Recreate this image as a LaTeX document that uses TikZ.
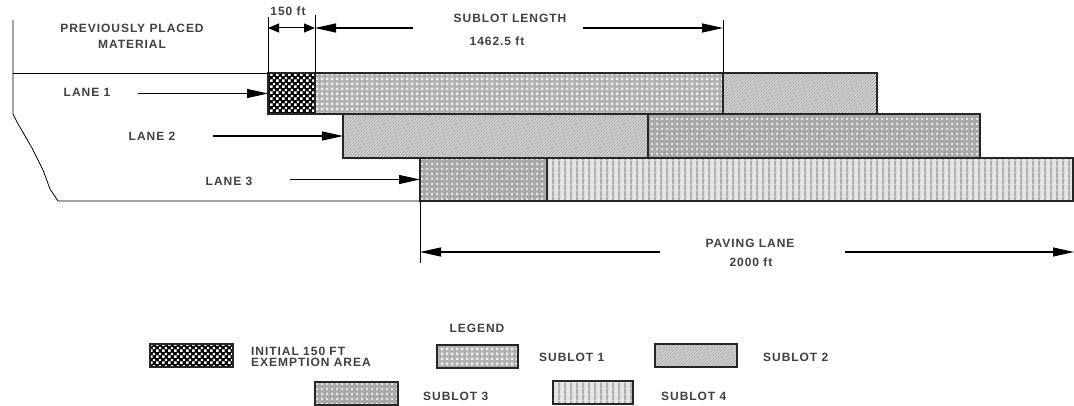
\documentclass[tikz,border=0pt]{standalone}
\usepackage{fontspec}
\setmainfont[LetterSpace=8]{Liberation Sans}
\usetikzlibrary{patterns,arrows.meta}

\pgfdeclarepatternformonly{exemptchk}{\pgfpointorigin}{\pgfqpoint{6pt}{6pt}}{\pgfqpoint{6pt}{6pt}}{%
  \pgfpathrectangle{\pgfqpoint{0.2pt}{0.2pt}}{\pgfqpoint{2.7pt}{2.7pt}}%
  \pgfpathrectangle{\pgfqpoint{3.2pt}{3.2pt}}{\pgfqpoint{2.7pt}{2.7pt}}%
  \pgfusepath{fill}}
\pgfdeclarepatternformonly{gridsq}{\pgfpointorigin}{\pgfqpoint{5pt}{5pt}}{\pgfqpoint{5pt}{5pt}}{%
  \pgfpathrectangle{\pgfqpoint{1pt}{1pt}}{\pgfqpoint{3pt}{3pt}}%
  \pgfusepath{fill}}
\pgfdeclarepatternformonly{meshsq}{\pgfpointorigin}{\pgfqpoint{5pt}{5pt}}{\pgfqpoint{5pt}{5pt}}{%
  \pgfpathrectangle{\pgfqpoint{1.3pt}{1.3pt}}{\pgfqpoint{2.4pt}{2.4pt}}%
  \pgfusepath{fill}}
\pgfdeclarepatternformonly{vstripes}{\pgfpointorigin}{\pgfqpoint{6pt}{6pt}}{\pgfqpoint{6pt}{6pt}}{%
  \pgfpathrectangle{\pgfqpoint{0pt}{0pt}}{\pgfqpoint{2.4pt}{6pt}}%
  \pgfusepath{fill}}

\begin{document}
\begin{tikzpicture}[
    x=1pt, y=-1pt,
    lot/.style={draw=black!85, line width=1.1pt, anchor=north west, inner sep=0pt, outer sep=0pt},
    exempt/.style={lot, preaction={fill=black}, pattern=exemptchk, pattern color=white},
    lotone/.style={lot, preaction={fill=gray!62}, pattern=gridsq, pattern color=gray!12},
    lottwo/.style={lot, preaction={fill=gray!28}, pattern=north east lines, pattern color=gray!85},
    lotthree/.style={lot, preaction={fill=gray!68}, pattern=meshsq, pattern color=gray!20},
    lotfour/.style={lot, preaction={fill=gray!20}, pattern=vstripes, pattern color=gray!62},
    key/.style={line width=1.5pt, minimum height=23},
    lbl/.style={font=\fontsize{12}{13}\selectfont\bfseries, text=black!75, inner sep=1pt},
    dim/.style={line width=0.8pt},
    arr/.style={-{Triangle[length=21pt,width=9pt]}, line width=1.1pt},
    short/.style={{Triangle[length=11pt,width=9pt]}-{Triangle[length=11pt,width=9pt]}, line width=1pt}
]
    \useasboundingbox (0,0) rectangle (1074,406);

    % lanes
    \node[exempt,   minimum width=47,  minimum height=41] (ex1) at (268,73)  {};
    \node[lotone,   minimum width=408, minimum height=41] (s1a) at (315,73)  {};
    \node[lottwo,   minimum width=154, minimum height=41] (s2a) at (723,73)  {};
    \node[lottwo,   minimum width=305, minimum height=44] (s2b) at (343,114) {};
    \node[lotthree, minimum width=332, minimum height=44] (s3b) at (648,114) {};
    \node[lotthree, minimum width=127, minimum height=43] (s3c) at (420,158) {};
    \node[lotfour,  minimum width=526, minimum height=43] (s4c) at (547,158) {};

    % edge of previously placed material
    \draw[dim] (ex1.north west) -- (13,73);
    \draw[dim] (13,20) -- (13,114) -- (17,122) -- (32,148) -- (43,170) -- (50,189) -- (58,201) -- (s3c.south west);
    \node[lbl, align=center] (prev) at (132,36) {PREVIOUSLY PLACED\\[3pt]MATERIAL};

    % lane labels
    \node[lbl] (lane1) at (87,92)   {LANE 1};
    \node[lbl] (lane2) at (152,136) {LANE 2};
    \node[lbl] (lane3) at (229,181) {LANE 3};
    \coordinate (a1) at (138,0);
    \coordinate (a2) at (213,0);
    \coordinate (a3) at (290,0);
    \draw[arr] (a1 |- ex1.west) -- (ex1.west);
    \draw[arr] (a2 |- s2b.west) -- (s2b.west);
    \draw[arr] (a3 |- s3c.west) -- (s3c.west);

    % dimensions on top
    \node[lbl] (ft150)    at (288,11) {150 ft};
    \node[lbl] (sublen)   at (510,18) {SUBLOT LENGTH};
    \node[lbl] (sublenft) at (497,41) {1462.5 ft};
    \coordinate (e0) at (268,17);
    \coordinate (e1) at (315,15);
    \coordinate (e2) at (723,20);
    \draw[dim] (e0) -- (ex1.north west);
    \draw[dim] (e1) -- (s1a.north west);
    \draw[dim] (e2) -- (s2a.north west);
    \coordinate (dy) at (0,28);
    \draw[short] (e0 |- dy) -- (e1 |- dy);
    \coordinate (dA) at (413,28);
    \coordinate (dB) at (583,28);
    \draw[arr] (dA) -- (e1 |- dA);
    \draw[arr] (dB) -- (e2 |- dB);

    % paving lane
    \coordinate (p0) at (420,263);
    \draw[dim] (s3c.south west) -- (p0);
    \node[lbl] (pave)   at (750,243) {PAVING LANE};
    \node[lbl] (paveft) at (751,262) {2000 ft};
    \coordinate (pA) at (660,252);
    \coordinate (pB) at (845,252);
    \coordinate (pC) at (1074,252);
    \draw[arr] (pA) -- (p0 |- pA);
    \draw[arr] (pB) -- (pC);

    % legend
    \node[lbl] (legend) at (477,328) {LEGEND};
    \node[exempt,   key, minimum width=83] (kex) at (150,344) {};
    \node[lbl, anchor=west, align=left] (kexlbl) at (250,357) {INITIAL 150 FT\\[-2pt]EXEMPTION AREA};
    \node[lotone,   key, minimum width=81] (k1) at (437,345) {};
    \node[lbl, anchor=west] (k1lbl) at (538,357) {SUBLOT 1};
    \node[lottwo,   key, minimum width=82] (k2) at (655,344) {};
    \node[lbl, anchor=west] (k2lbl) at (762,357) {SUBLOT 2};
    \node[lotthree, key, minimum width=83] (k3) at (315,382) {};
    \node[lbl, anchor=west] (k3lbl) at (422,396) {SUBLOT 3};
    \node[lotfour,  key, minimum width=80] (k4) at (553,381) {};
    \node[lbl, anchor=west] (k4lbl) at (660,396) {SUBLOT 4};
\end{tikzpicture}
\end{document}
